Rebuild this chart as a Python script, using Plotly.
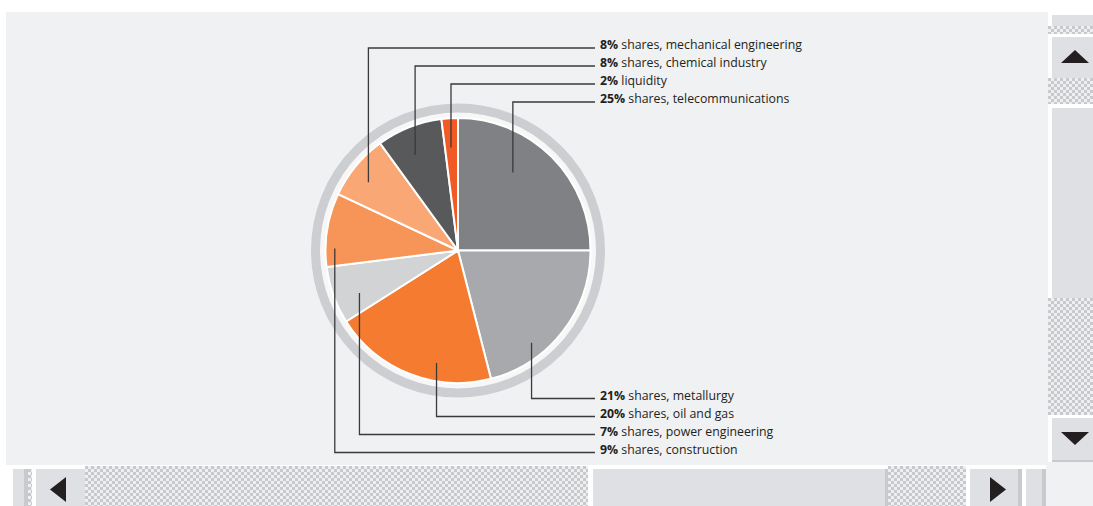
import base64
import math
import plotly.graph_objects as go

# ---- data -------------------------------------------------------------
categories = [
    "shares, telecommunications",
    "shares, metallurgy",
    "shares, oil and gas",
    "shares, power engineering",
    "shares, construction",
    "shares, mechanical engineering",
    "shares, chemical industry",
    "liquidity",
]
shares = [25, 21, 20, 7, 9, 8, 8, 2]
slice_colors = ["#808184", "#A7A9AC", "#F47B30", "#D1D3D4",
                "#F79457", "#F9A875", "#58595B", "#F15A24"]

# ---- layout constants (pixels) ----------------------------------------
W, H = 1093, 506
CX, CY, R = 458.0, 250.5, 132.5

# where each leader line touches its slice: (fraction across slice, fraction of radius)
leader_anchor = [(0.39, 0.72), (0.68, 0.89), (0.35, 0.865), (0.36, 0.81),
                 (0.25, 0.93), (0.42, 0.85), (0.41, 0.79), (0.46, 0.78)]
top_rows = [5, 6, 7, 0]
bottom_rows = [1, 2, 3, 4]
TOP_Y0, BOTTOM_Y0, ROW_STEP = 44.5, 395.0, 18.0
TEXT_X, LINE_END_X = 598.0, 595.0

BG = "#F0F1F3"
BTN = "#DFE0E3"
EDGE = "#C9CACD"
FONT = "Open Sans"


def X(px):
    return px / W


def Y(py):
    return 1 - py / H


def rect(x0, y0, x1, y1, color):
    return dict(type="rect", xref="paper", yref="paper", layer="below",
                x0=X(x0), x1=X(x1), y0=Y(y1), y1=Y(y0),
                fillcolor=color, line=dict(width=0))


def tri(points, color="#231F20"):
    path = "M " + " L ".join(f"{X(px)},{Y(py)}" for px, py in points) + " Z"
    return dict(type="path", xref="paper", yref="paper", layer="above",
                path=path, fillcolor=color, line=dict(width=0))


def checker_image(x0, y0, x1, y1):
    w, h = x1 - x0, y1 - y0
    svg = (f'<svg xmlns="http://www.w3.org/2000/svg" width="{w}" height="{h}">'
           '<defs><pattern id="p" width="6" height="6" patternUnits="userSpaceOnUse">'
           '<rect width="6" height="6" fill="#EEEFF1"/>'
           '<rect width="3" height="3" fill="#C8C9CC"/>'
           '<rect x="3" y="3" width="3" height="3" fill="#C8C9CC"/>'
           '</pattern></defs>'
           f'<rect width="{w}" height="{h}" fill="url(#p)"/></svg>')
    src = "data:image/svg+xml;base64," + base64.b64encode(svg.encode()).decode()
    return dict(source=src, xref="paper", yref="paper", x=X(x0), y=Y(y0),
                sizex=w / W, sizey=h / H, xanchor="left", yanchor="top",
                sizing="stretch", layer="below")


fig = go.Figure()

fig.add_trace(go.Pie(
    labels=categories, values=shares, sort=False, direction="clockwise",
    rotation=0, marker=dict(colors=slice_colors, line=dict(color="white", width=2)),
    textinfo="none", hoverinfo="skip", showlegend=False,
    domain=dict(x=[X(CX - R), X(CX + R)], y=[Y(CY + R), Y(CY - R)]),
))

shapes = []
images = []

# page panel
shapes.append(rect(6, 12, 1048, 465, BG))

# ring around the pie
shapes.append(dict(type="circle", xref="paper", yref="paper", layer="below",
                   x0=X(CX - 138), x1=X(CX + 138), y0=Y(CY + 138), y1=Y(CY - 138),
                   fillcolor="#F7F7F8", line=dict(width=0)))
shapes.append(dict(type="circle", xref="paper", yref="paper", layer="below",
                   x0=X(CX - 142.5), x1=X(CX + 142.5), y0=Y(CY + 142.5), y1=Y(CY - 142.5),
                   fillcolor="rgba(0,0,0,0)", line=dict(color="#CDCED2", width=9)))

# leader lines and labels
total = sum(shares)
starts = []
acc = 0.0
for v in shares:
    starts.append(acc)
    acc += v / total * 360.0

annotations = []
rows = [(i, TOP_Y0 + k * ROW_STEP) for k, i in enumerate(top_rows)] + \
       [(i, BOTTOM_Y0 + k * ROW_STEP) for k, i in enumerate(bottom_rows)]
for i, yc in rows:
    frac, rf = leader_anchor[i]
    ang = math.radians(starts[i] + frac * shares[i] / total * 360.0)
    ax = CX + rf * R * math.sin(ang)
    ay = CY - rf * R * math.cos(ang)
    ly = yc + 3.5
    path = f"M {X(ax)},{Y(ay)} L {X(ax)},{Y(ly)} L {X(LINE_END_X)},{Y(ly)}"
    shapes.append(dict(type="path", xref="paper", yref="paper", layer="above",
                       path=path, line=dict(color="#3A3A3C", width=1.3)))
    annotations.append(dict(
        xref="paper", yref="paper", x=X(TEXT_X), y=Y(yc), xanchor="left",
        yanchor="middle", showarrow=False,
        text=f"<b>{shares[i]}%</b> {categories[i]}",
        font=dict(family=FONT, size=12.3, color="#231F20")))

# vertical scroll bar
shapes.append(rect(1052, 15, 1093, 26, BTN))
images.append(checker_image(1048, 26, 1093, 34))
shapes.append(rect(1052, 37, 1093, 78, BTN))
images.append(checker_image(1048, 78, 1093, 104))
shapes.append(rect(1052, 108, 1093, 298, BTN))
images.append(checker_image(1048, 298, 1093, 415))
shapes.append(rect(1052, 418, 1093, 460, BTN))
shapes.append(rect(1052, 460, 1093, 462, EDGE))
shapes.append(rect(1046, 462, 1093, 506, BG))
shapes.append(tri([(1061, 63), (1075, 50), (1089, 63)]))
shapes.append(tri([(1061, 432), (1089, 432), (1075, 445)]))

# horizontal scroll bar
shapes.append(rect(13, 469, 24, 506, BTN))
shapes.append(rect(24, 469, 28, 506, EDGE))
images.append(checker_image(28, 469, 32, 506))
shapes.append(rect(36, 469, 85, 506, BTN))
images.append(checker_image(85, 466, 588, 506))
shapes.append(rect(593, 469, 885, 506, BTN))
shapes.append(rect(885, 469, 888, 506, EDGE))
images.append(checker_image(888, 466, 966, 506))
shapes.append(rect(970, 469, 1018, 506, BTN))
shapes.append(rect(1018, 469, 1022, 506, EDGE))
shapes.append(rect(1026, 469, 1042, 506, BTN))
shapes.append(rect(1042, 469, 1046, 506, EDGE))
shapes.append(tri([(66, 477), (66, 502), (50, 489.5)]))
shapes.append(tri([(990, 477), (1006, 489.5), (990, 502)]))

fig.update_layout(
    width=W, height=H, margin=dict(l=0, r=0, t=0, b=0),
    paper_bgcolor="white", plot_bgcolor="white",
    shapes=shapes, images=images, annotations=annotations,
    font=dict(family=FONT),
)

fig.write_html("out.html")
